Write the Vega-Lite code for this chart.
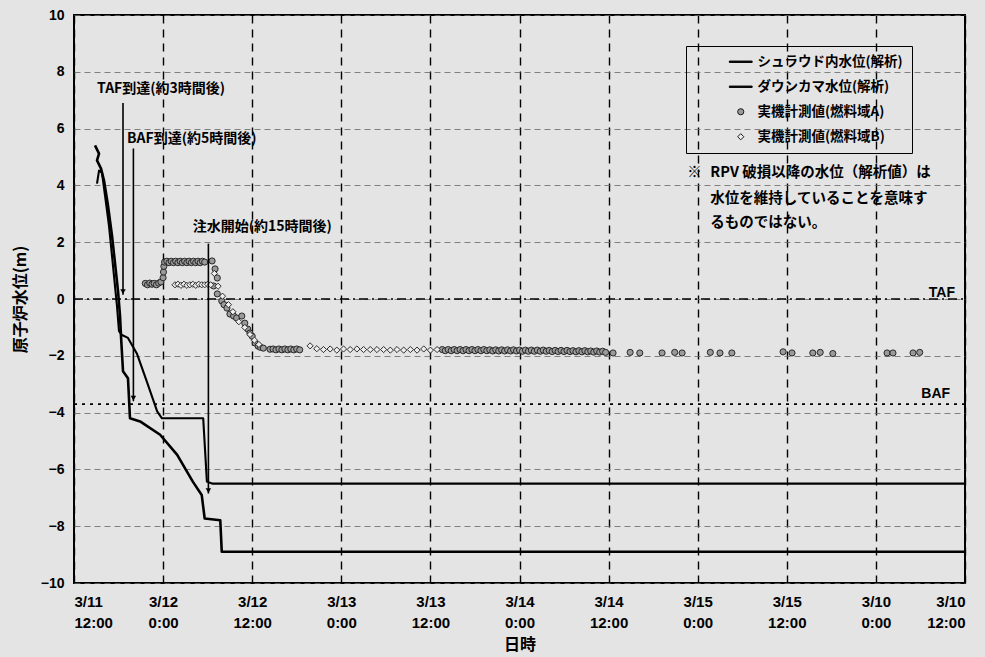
{
  "$schema": "https://vega.github.io/schema/vega-lite/v6.json",
  "width": 891,
  "height": 568,
  "autosize": {"type": "none"},
  "padding": {"left": 74, "top": 15, "right": 20, "bottom": 74},
  "background": "#e4e4e4",
  "config": {
    "view": {"stroke": "black", "strokeWidth": 2},
    "font": "Liberation Sans",
    "axis": {
      "domain": false, "ticks": false,
      "labelFont": "Liberation Sans", "labelFontWeight": "bold", "labelFontSize": 14, "labelColor": "black",
      "titleFont": "Noto Sans CJK JP", "titleFontWeight": "bold", "titleFontSize": 16, "titleColor": "black"
    },
    "axisX": {"grid": true, "gridColor": "black", "gridDash": [8, 6], "gridWidth": 1.4, "gridOpacity": 1, "labelPadding": 11, "labelLineHeight": 21, "labelFontSize": 15, "titlePadding": 6},
    "axisY": {"grid": true, "gridColor": "#666666", "gridDash": [6, 4], "gridWidth": 0.8, "gridOpacity": 1, "labelPadding": 10, "titlePadding": 12},
    "legend": {
      "orient": "none", "legendX": 612, "legendY": 31,
      "strokeColor": "black",
      "padding": 9,
      "symbolOffset": 39,
      "symbolSize": 38,
      "symbolStrokeWidth": 1,
      "labelOffset": 10,
      "rowPadding": 10,
      "labelFont": "Noto Sans CJK JP", "labelFontWeight": "bold", "labelFontSize": 13.5, "labelColor": "black",
      "labelLimit": 400
    }
  },
  "datasets": {
    "refs": [
      {"name": "TAF", "h": 0, "h2": 120, "v": 0},
      {"name": "BAF", "h": 0, "h2": 120, "v": -3.7}
    ],
    "lines": [
      {"s": "シュラウド内水位(解析)", "o": 1, "h": 2.83, "v": 5.41},
      {"s": "シュラウド内水位(解析)", "o": 2, "h": 3.37, "v": 5.12},
      {"s": "シュラウド内水位(解析)", "o": 3, "h": 3.1, "v": 4.88},
      {"s": "シュラウド内水位(解析)", "o": 4, "h": 3.64, "v": 4.59},
      {"s": "シュラウド内水位(解析)", "o": 5, "h": 4.04, "v": 4.17},
      {"s": "シュラウド内水位(解析)", "o": 6, "h": 4.58, "v": 3.29},
      {"s": "シュラウド内水位(解析)", "o": 7, "h": 5.12, "v": 2.23},
      {"s": "シュラウド内水位(解析)", "o": 8, "h": 5.52, "v": 1.27},
      {"s": "シュラウド内水位(解析)", "o": 9, "h": 5.93, "v": 0.28},
      {"s": "シュラウド内水位(解析)", "o": 10, "h": 6.2, "v": -0.6},
      {"s": "シュラウド内水位(解析)", "o": 11, "h": 6.33, "v": -1.31},
      {"s": "シュラウド内水位(解析)", "o": 12, "h": 6.6, "v": -2.54},
      {"s": "シュラウド内水位(解析)", "o": 13, "h": 7.27, "v": -2.79},
      {"s": "シュラウド内水位(解析)", "o": 14, "h": 7.54, "v": -4.2},
      {"s": "シュラウド内水位(解析)", "o": 15, "h": 8.9, "v": -4.31},
      {"s": "シュラウド内水位(解析)", "o": 16, "h": 11.6, "v": -4.78},
      {"s": "シュラウド内水位(解析)", "o": 17, "h": 13.9, "v": -5.49},
      {"s": "シュラウド内水位(解析)", "o": 18, "h": 16.0, "v": -6.43},
      {"s": "シュラウド内水位(解析)", "o": 19, "h": 17.2, "v": -6.9},
      {"s": "シュラウド内水位(解析)", "o": 20, "h": 17.6, "v": -7.73},
      {"s": "シュラウド内水位(解析)", "o": 21, "h": 19.7, "v": -7.79},
      {"s": "シュラウド内水位(解析)", "o": 22, "h": 19.9, "v": -8.9},
      {"s": "シュラウド内水位(解析)", "o": 23, "h": 120, "v": -8.9},
      {"s": "ダウンカマ水位(解析)", "o": 1, "h": 3.1, "v": 4.06},
      {"s": "ダウンカマ水位(解析)", "o": 2, "h": 3.37, "v": 4.52},
      {"s": "ダウンカマ水位(解析)", "o": 3, "h": 3.77, "v": 4.45},
      {"s": "ダウンカマ水位(解析)", "o": 4, "h": 4.18, "v": 3.64},
      {"s": "ダウンカマ水位(解析)", "o": 5, "h": 4.71, "v": 2.58},
      {"s": "ダウンカマ水位(解析)", "o": 6, "h": 5.12, "v": 1.52},
      {"s": "ダウンカマ水位(解析)", "o": 7, "h": 5.52, "v": 0.46},
      {"s": "ダウンカマ水位(解析)", "o": 8, "h": 5.79, "v": -0.25},
      {"s": "ダウンカマ水位(解析)", "o": 9, "h": 6.06, "v": -1.13},
      {"s": "ダウンカマ水位(解析)", "o": 10, "h": 6.46, "v": -1.27},
      {"s": "ダウンカマ水位(解析)", "o": 11, "h": 7.27, "v": -1.37},
      {"s": "ダウンカマ水位(解析)", "o": 12, "h": 8.5, "v": -1.94},
      {"s": "ダウンカマ水位(解析)", "o": 13, "h": 9.8, "v": -2.9},
      {"s": "ダウンカマ水位(解析)", "o": 14, "h": 11.2, "v": -3.96},
      {"s": "ダウンカマ水位(解析)", "o": 15, "h": 11.85, "v": -4.2},
      {"s": "ダウンカマ水位(解析)", "o": 16, "h": 17.4, "v": -4.2},
      {"s": "ダウンカマ水位(解析)", "o": 17, "h": 17.9, "v": -6.43},
      {"s": "ダウンカマ水位(解析)", "o": 18, "h": 18.6, "v": -6.5},
      {"s": "ダウンカマ水位(解析)", "o": 19, "h": 120, "v": -6.5}
    ],
    "points": [
      {"s": "実機計測値(燃料域A)", "h": 9.6, "v": 0.55}, {"s": "実機計測値(燃料域A)", "h": 9.9, "v": 0.5},
      {"s": "実機計測値(燃料域A)", "h": 10.2, "v": 0.56}, {"s": "実機計測値(燃料域A)", "h": 10.5, "v": 0.52},
      {"s": "実機計測値(燃料域A)", "h": 10.8, "v": 0.55}, {"s": "実機計測値(燃料域A)", "h": 11.1, "v": 0.5},
      {"s": "実機計測値(燃料域A)", "h": 11.4, "v": 0.56}, {"s": "実機計測値(燃料域A)", "h": 11.7, "v": 0.6},
      {"s": "実機計測値(燃料域A)", "h": 12.0, "v": 0.75}, {"s": "実機計測値(燃料域A)", "h": 12.05, "v": 0.95},
      {"s": "実機計測値(燃料域A)", "h": 12.1, "v": 1.15},
      {"s": "実機計測値(燃料域A)", "h": 12.2, "v": 1.3}, {"s": "実機計測値(燃料域A)", "h": 12.5, "v": 1.33},
      {"s": "実機計測値(燃料域A)", "h": 12.8, "v": 1.28}, {"s": "実機計測値(燃料域A)", "h": 13.1, "v": 1.33},
      {"s": "実機計測値(燃料域A)", "h": 13.4, "v": 1.28}, {"s": "実機計測値(燃料域A)", "h": 13.7, "v": 1.33},
      {"s": "実機計測値(燃料域A)", "h": 14.0, "v": 1.28}, {"s": "実機計測値(燃料域A)", "h": 14.3, "v": 1.33},
      {"s": "実機計測値(燃料域A)", "h": 14.6, "v": 1.28}, {"s": "実機計測値(燃料域A)", "h": 14.9, "v": 1.33},
      {"s": "実機計測値(燃料域A)", "h": 15.2, "v": 1.28}, {"s": "実機計測値(燃料域A)", "h": 15.5, "v": 1.33},
      {"s": "実機計測値(燃料域A)", "h": 15.8, "v": 1.28}, {"s": "実機計測値(燃料域A)", "h": 16.1, "v": 1.33},
      {"s": "実機計測値(燃料域A)", "h": 16.4, "v": 1.28}, {"s": "実機計測値(燃料域A)", "h": 16.7, "v": 1.33},
      {"s": "実機計測値(燃料域A)", "h": 17.0, "v": 1.28}, {"s": "実機計測値(燃料域A)", "h": 17.3, "v": 1.33},
      {"s": "実機計測値(燃料域A)", "h": 17.6, "v": 1.3},
      {"s": "実機計測値(燃料域A)", "h": 18.6, "v": 1.34}, {"s": "実機計測値(燃料域A)", "h": 19.0, "v": 1.06},
      {"s": "実機計測値(燃料域A)", "h": 19.3, "v": 0.74}, {"s": "実機計測値(燃料域A)", "h": 18.8, "v": 0.46},
      {"s": "実機計測値(燃料域A)", "h": 19.3, "v": 0.18}, {"s": "実機計測値(燃料域A)", "h": 19.9, "v": -0.07},
      {"s": "実機計測値(燃料域A)", "h": 20.2, "v": -0.2}, {"s": "実機計測値(燃料域A)", "h": 20.6, "v": -0.32},
      {"s": "実機計測値(燃料域A)", "h": 21.0, "v": -0.53}, {"s": "実機計測値(燃料域A)", "h": 21.5, "v": -0.6},
      {"s": "実機計測値(燃料域A)", "h": 21.9, "v": -0.67}, {"s": "実機計測値(燃料域A)", "h": 22.6, "v": -0.6},
      {"s": "実機計測値(燃料域A)", "h": 23.0, "v": -0.85}, {"s": "実機計測値(燃料域A)", "h": 23.4, "v": -1.06},
      {"s": "実機計測値(燃料域A)", "h": 23.7, "v": -1.2}, {"s": "実機計測値(燃料域A)", "h": 24.0, "v": -1.31},
      {"s": "実機計測値(燃料域A)", "h": 24.4, "v": -1.55}, {"s": "実機計測値(燃料域A)", "h": 24.8, "v": -1.66},
      {"s": "実機計測値(燃料域A)", "h": 25.1, "v": -1.7}, {"s": "実機計測値(燃料域A)", "h": 25.5, "v": -1.73},
      {"s": "実機計測値(燃料域A)", "h": 26.4, "v": -1.77},
      {"s": "実機計測値(燃料域A)", "h": 26.8, "v": -1.76}, {"s": "実機計測値(燃料域A)", "h": 27.2, "v": -1.79},
      {"s": "実機計測値(燃料域A)", "h": 27.6, "v": -1.76}, {"s": "実機計測値(燃料域A)", "h": 28.0, "v": -1.79},
      {"s": "実機計測値(燃料域A)", "h": 28.4, "v": -1.76}, {"s": "実機計測値(燃料域A)", "h": 28.8, "v": -1.79},
      {"s": "実機計測値(燃料域A)", "h": 29.2, "v": -1.76}, {"s": "実機計測値(燃料域A)", "h": 29.6, "v": -1.79},
      {"s": "実機計測値(燃料域A)", "h": 30.0, "v": -1.76}, {"s": "実機計測値(燃料域A)", "h": 30.4, "v": -1.79},
      {"s": "実機計測値(燃料域A)", "h": 49.6, "v": -1.78}, {"s": "実機計測値(燃料域A)", "h": 50.0, "v": -1.82},
      {"s": "実機計測値(燃料域A)", "h": 50.4, "v": -1.78}, {"s": "実機計測値(燃料域A)", "h": 50.8, "v": -1.82},
      {"s": "実機計測値(燃料域A)", "h": 51.2, "v": -1.78}, {"s": "実機計測値(燃料域A)", "h": 51.6, "v": -1.82},
      {"s": "実機計測値(燃料域A)", "h": 52.0, "v": -1.78}, {"s": "実機計測値(燃料域A)", "h": 52.4, "v": -1.82},
      {"s": "実機計測値(燃料域A)", "h": 52.8, "v": -1.78}, {"s": "実機計測値(燃料域A)", "h": 53.2, "v": -1.82},
      {"s": "実機計測値(燃料域A)", "h": 53.6, "v": -1.78}, {"s": "実機計測値(燃料域A)", "h": 54.0, "v": -1.82},
      {"s": "実機計測値(燃料域A)", "h": 54.4, "v": -1.78}, {"s": "実機計測値(燃料域A)", "h": 54.8, "v": -1.82},
      {"s": "実機計測値(燃料域A)", "h": 55.2, "v": -1.78}, {"s": "実機計測値(燃料域A)", "h": 55.6, "v": -1.82},
      {"s": "実機計測値(燃料域A)", "h": 56.0, "v": -1.79}, {"s": "実機計測値(燃料域A)", "h": 56.4, "v": -1.83},
      {"s": "実機計測値(燃料域A)", "h": 56.8, "v": -1.79}, {"s": "実機計測値(燃料域A)", "h": 57.2, "v": -1.83},
      {"s": "実機計測値(燃料域A)", "h": 57.6, "v": -1.79}, {"s": "実機計測値(燃料域A)", "h": 58.0, "v": -1.83},
      {"s": "実機計測値(燃料域A)", "h": 58.4, "v": -1.79}, {"s": "実機計測値(燃料域A)", "h": 58.8, "v": -1.83},
      {"s": "実機計測値(燃料域A)", "h": 59.2, "v": -1.79}, {"s": "実機計測値(燃料域A)", "h": 59.6, "v": -1.83},
      {"s": "実機計測値(燃料域A)", "h": 60.0, "v": -1.8}, {"s": "実機計測値(燃料域A)", "h": 60.4, "v": -1.84},
      {"s": "実機計測値(燃料域A)", "h": 60.8, "v": -1.8}, {"s": "実機計測値(燃料域A)", "h": 61.2, "v": -1.84},
      {"s": "実機計測値(燃料域A)", "h": 61.6, "v": -1.8}, {"s": "実機計測値(燃料域A)", "h": 62.0, "v": -1.84},
      {"s": "実機計測値(燃料域A)", "h": 62.4, "v": -1.8}, {"s": "実機計測値(燃料域A)", "h": 62.8, "v": -1.84},
      {"s": "実機計測値(燃料域A)", "h": 63.2, "v": -1.8}, {"s": "実機計測値(燃料域A)", "h": 63.6, "v": -1.84},
      {"s": "実機計測値(燃料域A)", "h": 64.0, "v": -1.81}, {"s": "実機計測値(燃料域A)", "h": 64.4, "v": -1.85},
      {"s": "実機計測値(燃料域A)", "h": 64.8, "v": -1.81}, {"s": "実機計測値(燃料域A)", "h": 65.2, "v": -1.85},
      {"s": "実機計測値(燃料域A)", "h": 65.6, "v": -1.81}, {"s": "実機計測値(燃料域A)", "h": 66.0, "v": -1.85},
      {"s": "実機計測値(燃料域A)", "h": 66.4, "v": -1.81}, {"s": "実機計測値(燃料域A)", "h": 66.8, "v": -1.85},
      {"s": "実機計測値(燃料域A)", "h": 67.2, "v": -1.82}, {"s": "実機計測値(燃料域A)", "h": 67.6, "v": -1.86},
      {"s": "実機計測値(燃料域A)", "h": 68.0, "v": -1.82}, {"s": "実機計測値(燃料域A)", "h": 68.4, "v": -1.86},
      {"s": "実機計測値(燃料域A)", "h": 68.8, "v": -1.82}, {"s": "実機計測値(燃料域A)", "h": 69.2, "v": -1.86},
      {"s": "実機計測値(燃料域A)", "h": 69.6, "v": -1.83}, {"s": "実機計測値(燃料域A)", "h": 70.0, "v": -1.87},
      {"s": "実機計測値(燃料域A)", "h": 70.4, "v": -1.83}, {"s": "実機計測値(燃料域A)", "h": 70.8, "v": -1.87},
      {"s": "実機計測値(燃料域A)", "h": 71.2, "v": -1.84}, {"s": "実機計測値(燃料域A)", "h": 71.6, "v": -1.88},
      {"s": "実機計測値(燃料域A)", "h": 72.6, "v": -1.9}, {"s": "実機計測値(燃料域A)", "h": 74.9, "v": -1.88},
      {"s": "実機計測値(燃料域A)", "h": 76.2, "v": -1.9}, {"s": "実機計測値(燃料域A)", "h": 79.2, "v": -1.9},
      {"s": "実機計測値(燃料域A)", "h": 80.9, "v": -1.88}, {"s": "実機計測値(燃料域A)", "h": 81.9, "v": -1.9},
      {"s": "実機計測値(燃料域A)", "h": 85.7, "v": -1.88}, {"s": "実機計測値(燃料域A)", "h": 87.0, "v": -1.9},
      {"s": "実機計測値(燃料域A)", "h": 88.6, "v": -1.9}, {"s": "実機計測値(燃料域A)", "h": 95.5, "v": -1.86},
      {"s": "実機計測値(燃料域A)", "h": 96.7, "v": -1.9}, {"s": "実機計測値(燃料域A)", "h": 99.5, "v": -1.9},
      {"s": "実機計測値(燃料域A)", "h": 100.5, "v": -1.88}, {"s": "実機計測値(燃料域A)", "h": 102.2, "v": -1.92},
      {"s": "実機計測値(燃料域A)", "h": 109.5, "v": -1.9}, {"s": "実機計測値(燃料域A)", "h": 110.3, "v": -1.9},
      {"s": "実機計測値(燃料域A)", "h": 113.0, "v": -1.9}, {"s": "実機計測値(燃料域A)", "h": 113.9, "v": -1.88},
      {"s": "実機計測値(燃料域B)", "h": 13.6, "v": 0.5}, {"s": "実機計測値(燃料域B)", "h": 14.0, "v": 0.52},
      {"s": "実機計測値(燃料域B)", "h": 14.4, "v": 0.48}, {"s": "実機計測値(燃料域B)", "h": 14.8, "v": 0.52},
      {"s": "実機計測値(燃料域B)", "h": 15.2, "v": 0.48}, {"s": "実機計測値(燃料域B)", "h": 15.6, "v": 0.5},
      {"s": "実機計測値(燃料域B)", "h": 16.0, "v": 0.52}, {"s": "実機計測値(燃料域B)", "h": 16.4, "v": 0.48},
      {"s": "実機計測値(燃料域B)", "h": 16.8, "v": 0.52}, {"s": "実機計測値(燃料域B)", "h": 17.2, "v": 0.5},
      {"s": "実機計測値(燃料域B)", "h": 17.6, "v": 0.5}, {"s": "実機計測値(燃料域B)", "h": 18.0, "v": 0.52},
      {"s": "実機計測値(燃料域B)", "h": 18.4, "v": 0.5},
      {"s": "実機計測値(燃料域B)", "h": 18.9, "v": 0.9}, {"s": "実機計測値(燃料域B)", "h": 19.4, "v": 0.45},
      {"s": "実機計測値(燃料域B)", "h": 20.0, "v": 0.1}, {"s": "実機計測値(燃料域B)", "h": 20.8, "v": -0.2},
      {"s": "実機計測値(燃料域B)", "h": 21.4, "v": -0.45}, {"s": "実機計測値(燃料域B)", "h": 22.2, "v": -0.8},
      {"s": "実機計測値(燃料域B)", "h": 23.0, "v": -1.0}, {"s": "実機計測値(燃料域B)", "h": 23.7, "v": -1.25},
      {"s": "実機計測値(燃料域B)", "h": 24.3, "v": -1.45}, {"s": "実機計測値(燃料域B)", "h": 24.9, "v": -1.6},
      {"s": "実機計測値(燃料域B)", "h": 31.8, "v": -1.65}, {"s": "実機計測値(燃料域B)", "h": 32.7, "v": -1.75},
      {"s": "実機計測値(燃料域B)", "h": 33.6, "v": -1.78}, {"s": "実機計測値(燃料域B)", "h": 34.5, "v": -1.76},
      {"s": "実機計測値(燃料域B)", "h": 35.4, "v": -1.8}, {"s": "実機計測値(燃料域B)", "h": 36.3, "v": -1.76},
      {"s": "実機計測値(燃料域B)", "h": 37.2, "v": -1.78}, {"s": "実機計測値(燃料域B)", "h": 38.1, "v": -1.76},
      {"s": "実機計測値(燃料域B)", "h": 39.0, "v": -1.78}, {"s": "実機計測値(燃料域B)", "h": 39.9, "v": -1.78},
      {"s": "実機計測値(燃料域B)", "h": 40.8, "v": -1.78}, {"s": "実機計測値(燃料域B)", "h": 41.7, "v": -1.78},
      {"s": "実機計測値(燃料域B)", "h": 42.6, "v": -1.8}, {"s": "実機計測値(燃料域B)", "h": 43.5, "v": -1.78},
      {"s": "実機計測値(燃料域B)", "h": 44.4, "v": -1.8}, {"s": "実機計測値(燃料域B)", "h": 45.3, "v": -1.78},
      {"s": "実機計測値(燃料域B)", "h": 46.2, "v": -1.8}, {"s": "実機計測値(燃料域B)", "h": 47.1, "v": -1.76},
      {"s": "実機計測値(燃料域B)", "h": 48.0, "v": -1.8}, {"s": "実機計測値(燃料域B)", "h": 48.9, "v": -1.78}
    ],
    "arrows": [
      {"t": "TAF", "h": 6.6, "v": 6.9, "v2": 0.15},
      {"t": "BAF", "h": 8.0, "v": 5.3, "v2": -3.6},
      {"t": "注水", "h": 18.1, "v": 1.95, "v2": -6.85}
    ],
    "heads": [
      {"t": "TAF", "h": 6.6, "v": 0.15},
      {"t": "BAF", "h": 8.0, "v": -3.6},
      {"t": "注水", "h": 18.1, "v": -6.85}
    ],
    "annots": [
      {"t": "TAF到達(約3時間後)", "h": 3.1, "v": 7.39},
      {"t": "BAF到達(約5時間後)", "h": 7.14, "v": 5.62},
      {"t": "注水開始(約15時間後)", "h": 16.0, "v": 2.54}
    ],
    "notes": [
      {"t": "※", "h": 82.6, "v": 4.42},
      {"t": "RPV 破損以降の水位（解析値）は", "h": 85.7, "v": 4.42},
      {"t": "水位を維持していることを意味す", "h": 85.7, "v": 3.53},
      {"t": "るものではない。", "h": 85.7, "v": 2.69}
    ],
    "reflabels": [
      {"t": "TAF", "h": 118.65, "v": 0.08},
      {"t": "BAF", "h": 118.0, "v": -3.5}
    ]
  },
  "encoding": {
    "x": {
      "field": "h", "type": "quantitative",
      "scale": {"domain": [0, 120], "nice": false, "zero": false},
      "axis": {
        "title": "日時",
        "values": [0, 12, 24, 36, 48, 60, 72, 84, 96, 108, 120],
        "labelExpr": "[['3/11','12:00'],['3/12','0:00'],['3/12','12:00'],['3/13','0:00'],['3/13','12:00'],['3/14','0:00'],['3/14','12:00'],['3/15','0:00'],['3/15','12:00'],['3/10','0:00'],['3/10','12:00']][round(datum.value/12)]"
      }
    },
    "y": {
      "field": "v", "type": "quantitative",
      "scale": {"domain": [-10, 10], "nice": false, "zero": false},
      "axis": {"title": "原子炉水位(m)", "values": [-10, -8, -6, -4, -2, 0, 2, 4, 6, 8, 10]}
    }
  },
  "layer": [
    {
      "data": {"name": "refs"},
      "mark": {"type": "rule", "color": "black", "strokeWidth": 1.6},
      "encoding": {
        "x2": {"field": "h2"},
        "strokeDash": {"field": "name", "type": "nominal", "scale": {"domain": ["TAF", "BAF"], "range": [[9, 4, 2, 4], [3, 5]]}, "legend": null}
      }
    },
    {
      "data": {"name": "lines"},
      "mark": {"type": "line", "color": "black", "strokeJoin": "round"},
      "encoding": {
        "detail": {"field": "s", "type": "nominal"},
        "order": {"field": "o", "type": "quantitative"},
        "strokeWidth": {"field": "s", "type": "nominal", "scale": {"domain": ["シュラウド内水位(解析)", "ダウンカマ水位(解析)"], "range": [2.6, 2.1]}, "legend": null}
      }
    },
    {
      "data": {"name": "points"},
      "mark": {"type": "point", "filled": true, "strokeWidth": 0.9, "size": 38, "opacity": 1},
      "encoding": {
        "fill": {
          "field": "s", "type": "nominal",
          "scale": {"domain": ["シュラウド内水位(解析)", "ダウンカマ水位(解析)", "実機計測値(燃料域A)", "実機計測値(燃料域B)"], "range": ["black", "black", "#9a9a9a", "#eeeeee"]},
          "legend": {"title": null}
        },
        "stroke": {
          "field": "s", "type": "nominal",
          "scale": {"domain": ["シュラウド内水位(解析)", "ダウンカマ水位(解析)", "実機計測値(燃料域A)", "実機計測値(燃料域B)"], "range": ["black", "black", "#1a1a1a", "#1a1a1a"]},
          "legend": {"title": null}
        },
        "shape": {
          "field": "s", "type": "nominal",
          "scale": {"domain": ["シュラウド内水位(解析)", "ダウンカマ水位(解析)", "実機計測値(燃料域A)", "実機計測値(燃料域B)"], "range": ["M-3.7,-0.22H3.7V0.22H-3.7Z", "M-3.7,-0.22H3.7V0.22H-3.7Z", "circle", "diamond"]},
          "legend": {"title": null}
        }
      }
    },
    {
      "data": {"name": "arrows"},
      "mark": {"type": "rule", "color": "black", "strokeWidth": 1.6},
      "encoding": {"y2": {"field": "v2"}}
    },
    {
      "data": {"name": "heads"},
      "mark": {"type": "point", "shape": "triangle-down", "filled": true, "color": "black", "size": 30, "yOffset": -3, "opacity": 1}
    },
    {
      "data": {"name": "annots"},
      "mark": {"type": "text", "align": "left", "baseline": "middle", "font": "Noto Sans CJK JP", "fontWeight": "bold", "fontSize": 14, "color": "black"},
      "encoding": {"text": {"field": "t"}}
    },
    {
      "data": {"name": "notes"},
      "mark": {"type": "text", "align": "left", "baseline": "middle", "font": "Noto Sans CJK JP", "fontWeight": "bold", "fontSize": 14.5, "color": "black"},
      "encoding": {"text": {"field": "t"}}
    },
    {
      "data": {"name": "reflabels"},
      "mark": {"type": "text", "align": "right", "baseline": "alphabetic", "font": "Liberation Sans", "fontWeight": "bold", "fontSize": 14, "color": "black"},
      "encoding": {"text": {"field": "t"}}
    }
  ]
}
